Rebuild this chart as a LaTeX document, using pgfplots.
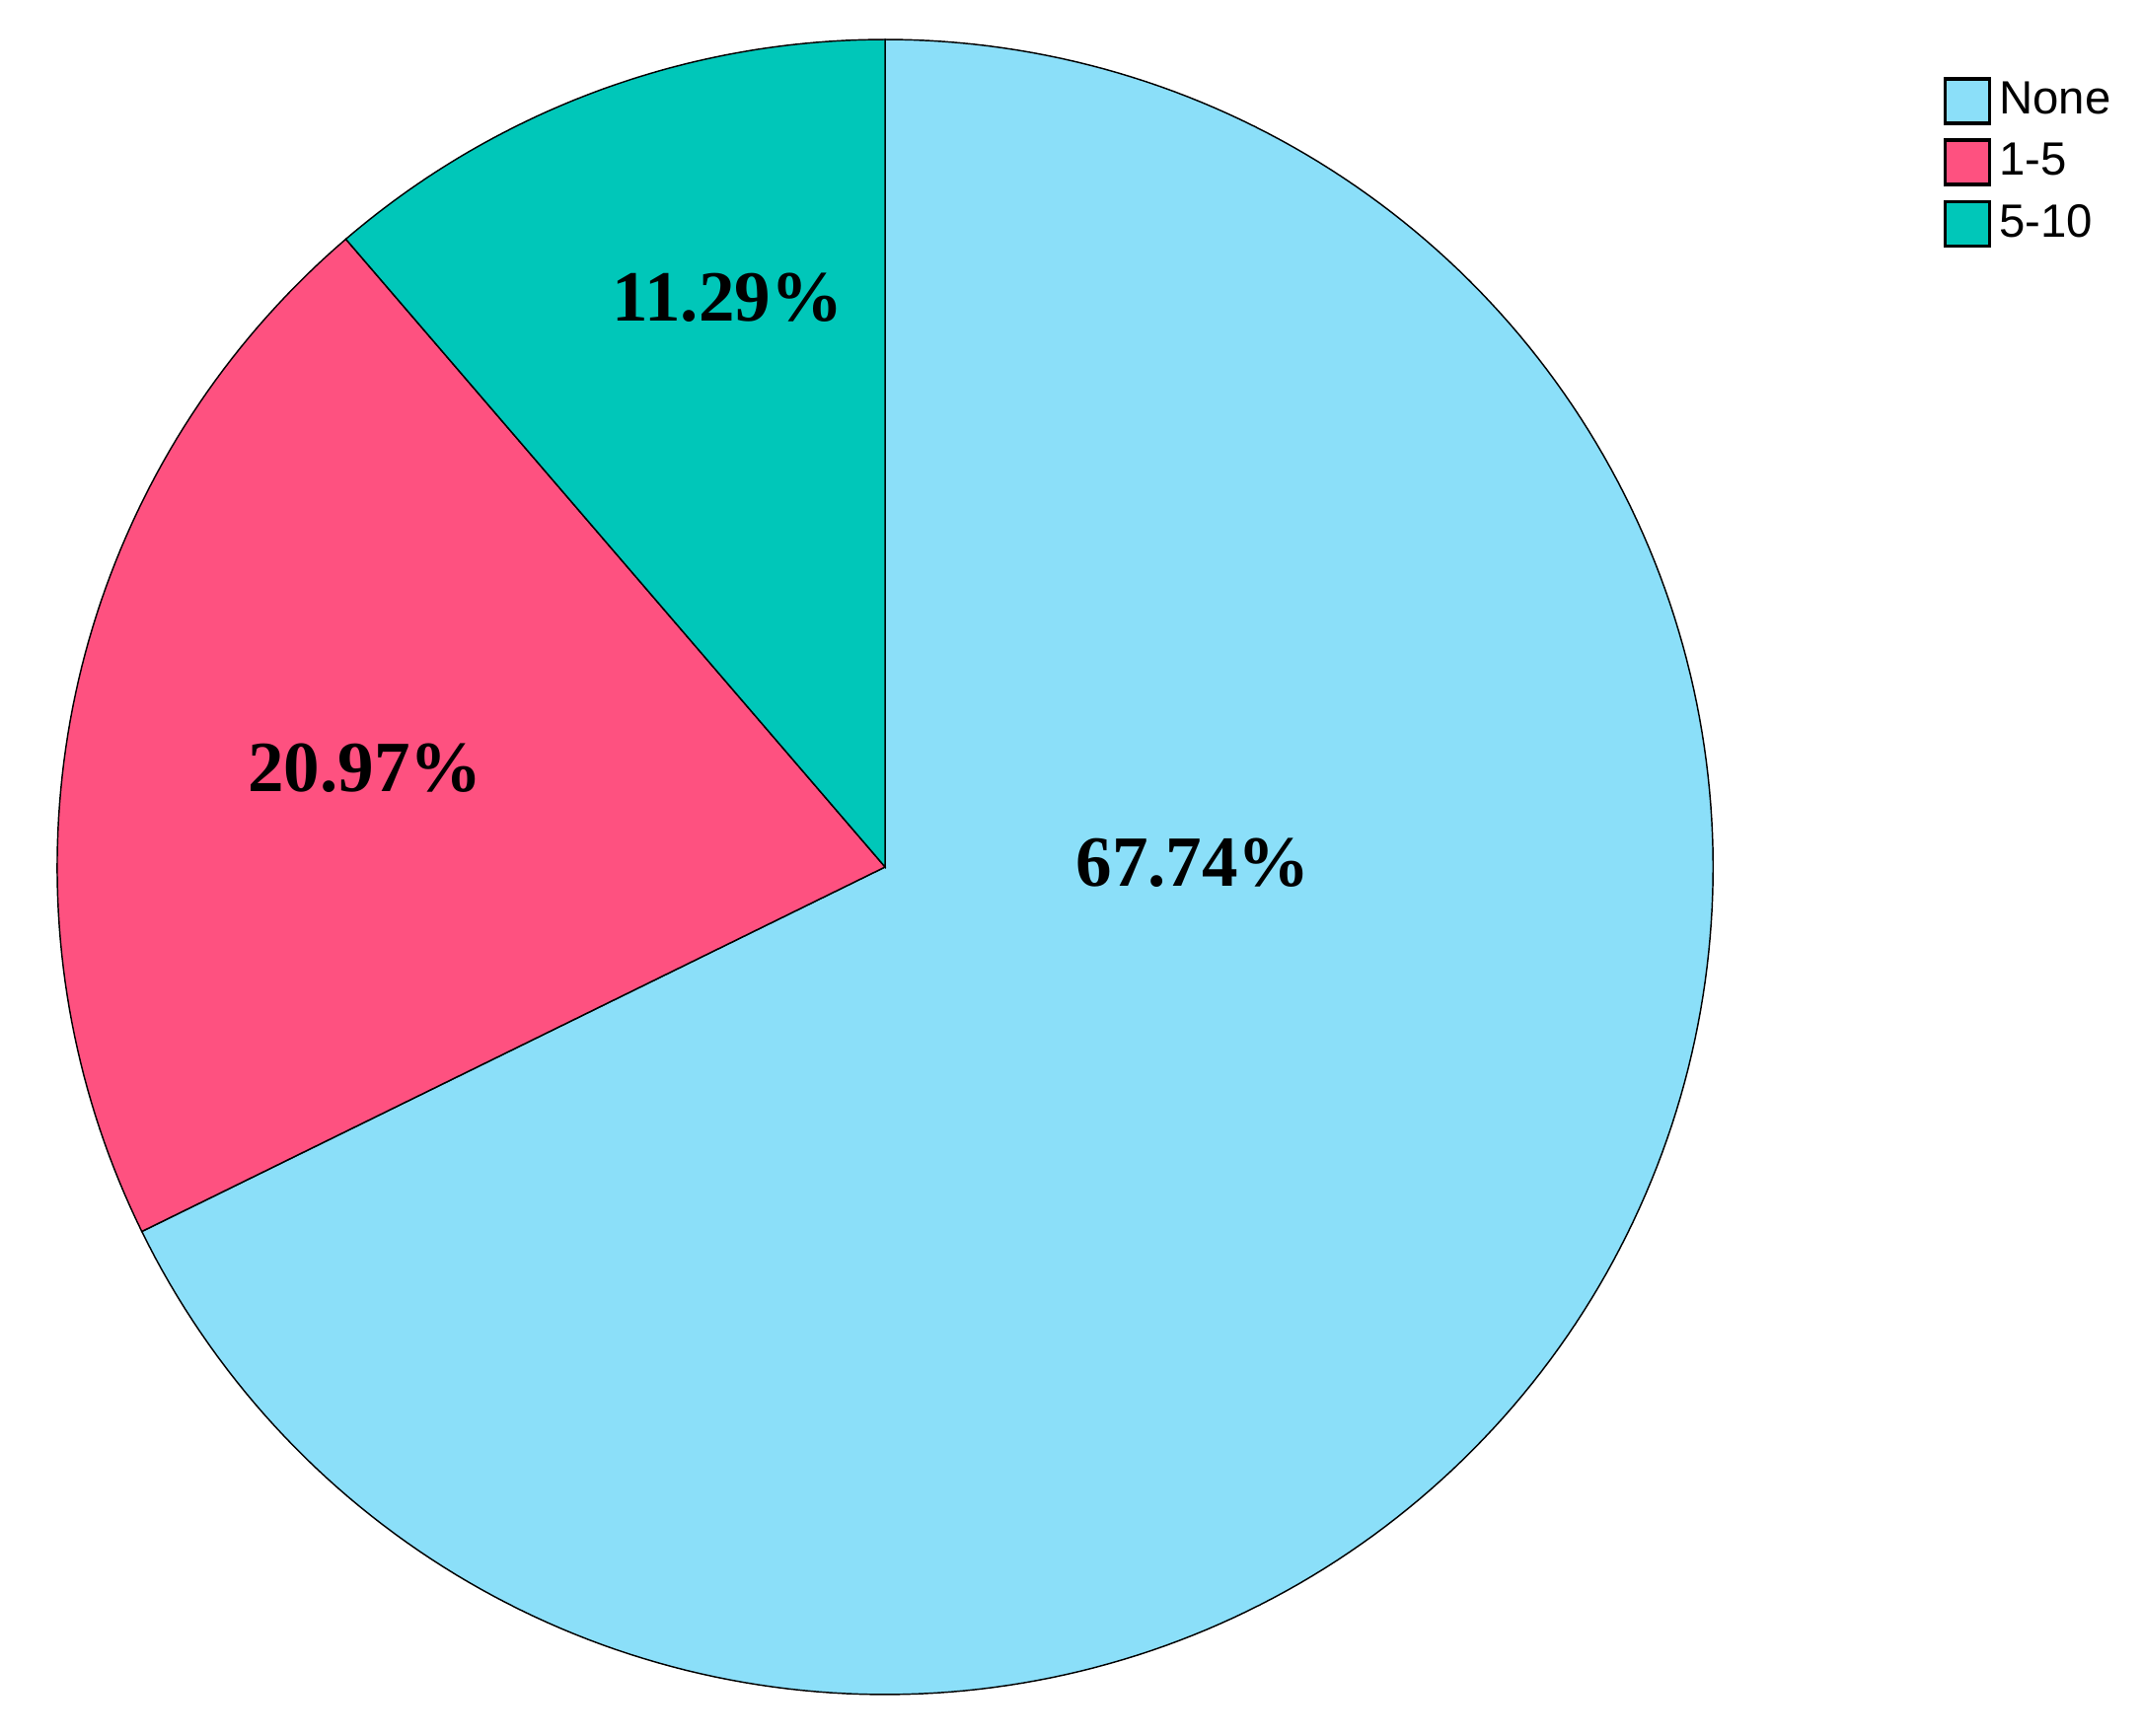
\documentclass[border=0pt]{standalone}
\usepackage{fontspec}
\setmainfont{Liberation Serif}
\newfontfamily\legendfont{Liberation Sans}
\usepackage{pgfplots}
\pgfplotsset{compat=1.18}
\definecolor{NoneBlue}{RGB}{139,223,249}
\definecolor{PinkRed}{RGB}{254,81,128}
\definecolor{Teal}{RGB}{0,199,185}

% shares in percent, clockwise from 12 o'clock
\def\vNone{67.74}
\def\vOne{20.97}
\def\vFive{11.29}
\pgfmathsetmacro\aStart{90}
\pgfmathsetmacro\aNone{90-3.6*\vNone}
\pgfmathsetmacro\aOne{\aNone-3.6*\vOne}
\pgfmathsetmacro\aFive{\aOne-3.6*\vFive}

\begin{document}
\begin{tikzpicture}
  \begin{axis}[
      scale only axis,
      width=18.38cm, height=14.90cm,
      xmin=-1.069, xmax=1.518,
      ymin=-1.050, ymax=1.0477,
      axis line style={draw=none},
      xtick=\empty, ytick=\empty,
      clip=false,
      legend cell align=left,
      legend style={at={(rel axis cs:0.907,0.958)}, anchor=north west,
        draw=none, fill=none, row sep=1.6pt, inner sep=0pt,
        font=\legendfont\fontsize{11.4}{13}\selectfont},
      legend image code/.code={\draw[#1, line width=0.8pt] (0cm,-0.19cm) rectangle (0.38cm,0.19cm);},
    ]
    \addplot[fill=NoneBlue, draw=black, line width=0.35pt, domain=\aNone:\aStart, samples=240]
      ({cos(x)},{sin(x)}) -- (0,0) -- cycle;
    \addplot[fill=PinkRed, draw=black, line width=0.35pt, domain=\aOne:\aNone, samples=80]
      ({cos(x)},{sin(x)}) -- (0,0) -- cycle;
    \addplot[fill=Teal, draw=black, line width=0.35pt, domain=\aFive:\aOne, samples=60]
      ({cos(x)},{sin(x)}) -- (0,0) -- cycle;
    \legend{None,1-5,5-10}
    \node[font=\bfseries\fontsize{17.6}{20}\selectfont] at (0.372,0.005) {67.74\%};
    \node[font=\bfseries\fontsize{17.6}{20}\selectfont] at (-0.628,0.119) {20.97\%};
    \node[font=\bfseries\fontsize{17.6}{20}\selectfont] at (-0.190,0.688) {11.29\%};
  \end{axis}
\end{tikzpicture}
\end{document}
